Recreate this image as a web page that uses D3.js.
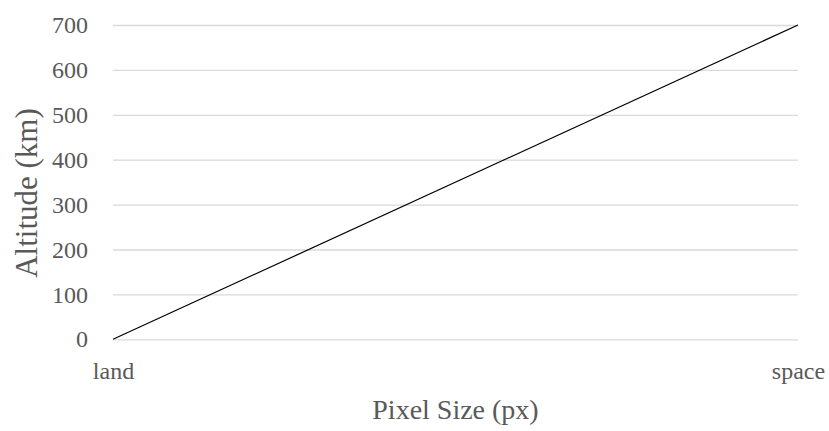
<!DOCTYPE html>
<html><head><meta charset="utf-8">
<script src="https://cdn.jsdelivr.net/npm/d3@7"></script>
<style>body{margin:0;background:#fff}svg{display:block}</style>
</head><body>
<svg id="c" width="829" height="431"></svg>
<script>
const categories = ["land", "space"];
const altitudes = [0, 700];
const yTicks = [0, 100, 200, 300, 400, 500, 600, 700];
const xTitle = "Pixel Size (px)";
const yTitle = "Altitude (km)";

const W = 829, H = 431;
const m = {left: 113, right: 31, top: 25, bottom: 92};
const font = "'Liberation Serif', 'Times New Roman', serif";
const textColor = "#595959";
const svg = d3.select("#c");

const x = d3.scalePoint().domain(categories).range([m.left, W - m.right]).padding(0);
const y = d3.scaleLinear().domain([0, 700]).range([H - m.bottom + 0.3, m.top]);

// gridlines
const yAxis = d3.axisLeft(y).tickValues(yTicks).tickSize(-(W - m.left - m.right)).tickPadding(25).tickFormat(d3.format("d"));
const gy = svg.append("g").attr("transform", `translate(${m.left},0)`).call(yAxis);
gy.select(".domain").remove();
gy.selectAll(".tick line").attr("stroke", "#d9d9d9").attr("stroke-width", 1.3);
gy.selectAll(".tick text").attr("fill", textColor).style("font-family", font).style("font-size", "24px");

// x axis labels
const xAxis = d3.axisBottom(x).tickSize(0).tickPadding(23);
const gx = svg.append("g").attr("transform", `translate(0,${y(0)})`).call(xAxis);
gx.select(".domain").remove();
gx.selectAll(".tick text").attr("fill", textColor).style("font-family", font).style("font-size", "24px");

// line
const data = categories.map((c, i) => ({c, v: altitudes[i]}));
svg.append("path").datum(data)
  .attr("fill", "none").attr("stroke", "#000").attr("stroke-width", 1.2)
  .attr("d", d3.line().x(d => x(d.c)).y(d => y(d.v)));

// titles
svg.append("text").attr("x", (m.left + W - m.right) / 2).attr("y", 419)
  .attr("text-anchor", "middle").attr("fill", textColor)
  .style("font-family", font).style("font-size", "28px").text(xTitle);
svg.append("text").attr("transform", "translate(37,193) rotate(-90)")
  .attr("text-anchor", "middle").attr("fill", textColor)
  .style("font-family", font).style("font-size", "31px").text(yTitle);
</script>
</body></html>
